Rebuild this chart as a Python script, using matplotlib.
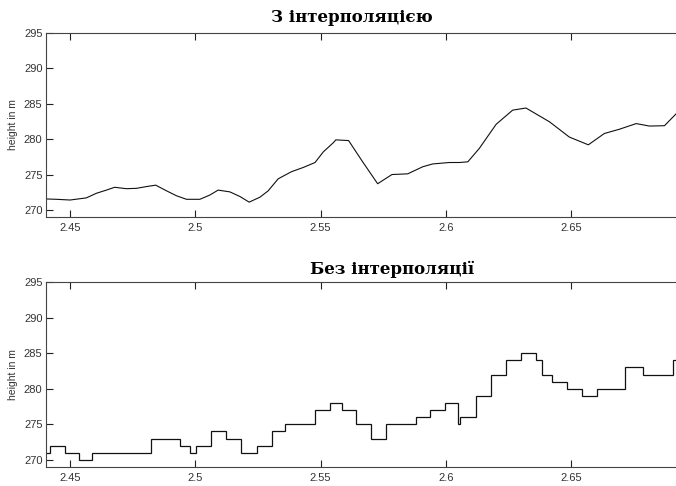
import numpy as np
import matplotlib
matplotlib.use("Agg")
import matplotlib.pyplot as plt

# ---------------- data ----------------
# interpolated profile
x_interp = [2.4404, 2.4446, 2.4500, 2.4565, 2.4605, 2.4645, 2.4678, 2.4725, 2.4765, 2.4805,
            2.4842, 2.4885, 2.4925, 2.4965, 2.5018, 2.5058, 2.5091, 2.5138, 2.5178, 2.5215,
            2.5258, 2.5291, 2.5331, 2.5384, 2.5431, 2.5478, 2.5511, 2.5551, 2.5561, 2.5612,
            2.5668, 2.5728, 2.5785, 2.5848, 2.5908, 2.5948, 2.6014, 2.6054, 2.6088, 2.6134,
            2.6201, 2.6267, 2.6320, 2.6414, 2.6493, 2.6569, 2.6633, 2.6693, 2.6760, 2.6813,
            2.6873, 2.6920]
h_interp = [271.55, 271.5, 271.4, 271.7, 272.35, 272.8, 273.2, 273.0, 273.05, 273.3,
            273.5, 272.7, 272.0, 271.5, 271.5, 272.1, 272.8, 272.55, 271.9, 271.1,
            271.8, 272.7, 274.4, 275.4, 276.0, 276.7, 278.2, 279.5, 279.9, 279.8,
            276.8, 273.7, 275.0, 275.1, 276.1, 276.5, 276.7, 276.7, 276.8, 278.7,
            282.1, 284.1, 284.4, 282.45, 280.3, 279.2, 280.8, 281.4, 282.2, 281.85,
            281.9, 283.6]

# raw profile (step edges + heights)
x_edges = [2.4404, 2.4419, 2.4479, 2.4535, 2.4588, 2.4822, 2.4939, 2.4977, 2.5001, 2.5062,
           2.5123, 2.5183, 2.5245, 2.5305, 2.5360, 2.5478, 2.5537, 2.5587, 2.5643, 2.5700,
           2.5761, 2.5880, 2.5937, 2.5997, 2.6050, 2.6057, 2.6120, 2.6181, 2.6239, 2.6300,
           2.6360, 2.6386, 2.6422, 2.6483, 2.6543, 2.6603, 2.6717, 2.6787, 2.6907, 2.6920]
h_raw = [271, 272, 271, 270, 271, 273, 272, 271, 272, 274,
         273, 271, 272, 274, 275, 277, 278, 277, 275, 273,
         275, 276, 277, 278, 275, 276, 279, 282, 284, 285,
         284, 282, 281, 280, 279, 280, 283, 282, 284]

x_ticks = [2.45, 2.5, 2.55, 2.6, 2.65]
x_ticklabels = ["2.45", "2.5", "2.55", "2.6", "2.65"]
y_ticks = [270, 275, 280, 285, 290, 295]

titles = ["З інтерполяцією", "Без інтерполяції"]

W, H = 676, 486
fig = plt.figure(figsize=(W / 100, H / 100), dpi=100)
plt.rcParams["font.family"] = ["Liberation Sans", "DejaVu Sans"]


def px_axes(l, t, r, b):
    return fig.add_axes([l / W, 1 - b / H, (r - l) / W, (b - t) / H])


def style(ax):
    ax.set_xlim(2.4404, 2.6923)
    ax.set_ylim(269, 295)
    ax.set_xticks(x_ticks)
    ax.set_xticklabels(x_ticklabels)
    ax.set_yticks(y_ticks)
    ax.tick_params(direction="in", length=5, width=0.8, top=True, right=False,
                   labelsize=8, colors="#222", labelcolor="#333")
    ax.tick_params(axis="y", pad=2.5)
    ax.tick_params(axis="x", pad=4)
    for s in ax.spines.values():
        s.set_color("#444")
        s.set_linewidth(0.8)
    ax.set_ylabel("height in m", fontsize=7.5, color="#333", labelpad=4)


ax1 = px_axes(46, 33, 677, 217)
ax1.plot(x_interp, h_interp, color="#111", lw=0.8)
style(ax1)

ax2 = px_axes(46, 282, 677, 467)
ax2.stairs(h_raw, x_edges, color="#111", lw=0.9, baseline=None)
style(ax2)

fig.text(352 / W, 1 - 22 / H, titles[0], ha="center", va="baseline",
         fontsize=12, fontweight="bold", family="DejaVu Serif")
fig.text(392 / W, 1 - 274 / H, titles[1], ha="center", va="baseline",
         fontsize=12, fontweight="bold", family="DejaVu Serif")

fig.savefig("out.png", dpi=100)
